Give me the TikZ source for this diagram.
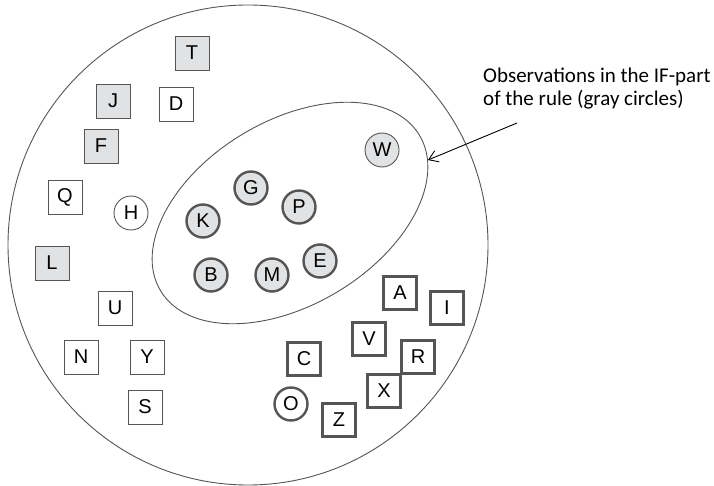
\documentclass[tikz,border=0pt]{standalone}
\usepackage{fontspec}
\setmainfont{Liberation Sans}
\newfontfamily\notefont{Carlito}
\usepackage{tikz}
\usepackage{xcolor}
\usetikzlibrary{positioning,arrows.meta,shapes.geometric}
\definecolor{myline}{RGB}{85,85,85}
\definecolor{mygray}{RGB}{225,226,228}
\tikzset{
    sq/.style={
        rectangle,
        draw=myline,
        fill=white,
        line width=0.9pt,
        minimum size=34pt,
        inner sep=0pt,
        font=\fontsize{20}{20}\selectfont
    },
    sqgray/.style={sq, fill=mygray},
    sqthen/.style={sq, line width=2.4pt, minimum size=33pt},
    ob/.style={
        circle,
        draw=myline,
        fill=white,
        line width=0.9pt,
        minimum size=34pt,
        inner sep=0pt,
        font=\fontsize{20}{20}\selectfont
    },
    obif/.style={ob, fill=mygray, line width=2.4pt, minimum size=33pt},
    region/.style={draw=myline, line width=0.9pt, inner sep=0pt},
    pointer/.style={-{Straight Barb[length=9pt,width=12pt]}, line width=0.9pt, black}
}
\begin{document}
\begin{tikzpicture}[x=1pt, y=-1pt]
\useasboundingbox (0,0) rectangle (714,486);

% Regions
\node[region, circle, minimum size=480pt] (all) at (248,245) {};
\node[region, ellipse, minimum width=302pt, minimum height=184pt, rotate=31] (ifpart) at (290,213) {};

% Outside the IF-part
\node[sqgray] (T) at (192,53) {T};
\node[sqgray] (J) at (113,101) {J};
\node[sq]     (D) at (176,104) {D};
\node[sqgray] (F) at (101,146) {F};
\node[sq]     (Q) at (65,197) {Q};
\node[ob]     (H) at (131,213) {H};
\node[sqgray] (L) at (52,263) {L};
\node[sq]     (U) at (115,308) {U};
\node[sq]     (N) at (81,357) {N};
\node[sq]     (Y) at (147,357) {Y};
\node[sq]     (S) at (145,407) {S};

% Inside the IF-part
\node[ob, fill=mygray] (W) at (382,150) {W};
\node[obif] (G) at (251,188) {G};
\node[obif] (P) at (299,207) {P};
\node[obif] (K) at (203,221) {K};
\node[obif] (E) at (320,261) {E};
\node[obif] (B) at (211,275) {B};
\node[obif] (M) at (272,275) {M};

% Lower right group
\node[sqthen] (A) at (400,293) {A};
\node[sqthen] (I) at (447,308) {I};
\node[sqthen] (V) at (369,339) {V};
\node[sqthen] (R) at (418,357) {R};
\node[sqthen] (C) at (304,359) {C};
\node[sqthen] (X) at (384,391) {X};
\node[sqthen] (Z) at (339,420) {Z};
\node[ob, line width=2.4pt, minimum size=33pt] (O) at (291,404) {O};

% Note
\node[anchor=north west, align=left, inner sep=0pt, font=\notefont\fontsize{21}{23}\selectfont] (note) at (483,68)
    {Observations in the IF-part\\of the rule (gray circles)};
\coordinate (tail) at (517,123);
\draw[pointer] (tail) -- (ifpart.-10);

\end{tikzpicture}
\end{document}
